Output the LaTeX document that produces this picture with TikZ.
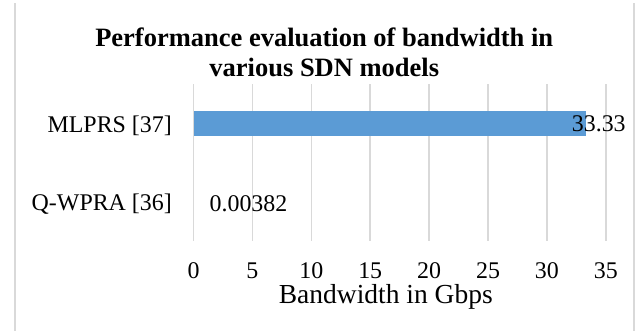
\documentclass[tikz,border=0pt]{standalone}
\usepackage{fontspec}
\setmainfont{Liberation Serif}
\definecolor{gridgray}{HTML}{D9D9D9}
\definecolor{barblue}{HTML}{5B9BD5}
\begin{document}
\begin{tikzpicture}[x=1bp,y=-1bp,
  frameline/.style={draw=gridgray,line width=1.5bp},
  gridline/.style={draw=gridgray,line width=1.5bp},
  lbl/.style={inner sep=0pt,font=\fontsize{23.9bp}{28bp}\selectfont},
  axtitle/.style={inner sep=0pt,font=\fontsize{27.5bp}{30bp}\selectfont},
  charttitle/.style={inner sep=0pt,font=\fontsize{26.5bp}{30bp}\selectfont\bfseries}]
\useasboundingbox (0,0) rectangle (638,331);
% chart frame sides
\draw[frameline] (15,3) -- (15,331);
\draw[frameline] (634,3) -- (634,331);
% gridlines and tick labels
\foreach \v [count=\i] in {0,5,10,15,20,25,30,35}{
  \draw[gridline] ({193.5+\v*11.78},84) -- ({193.5+\v*11.78},241);
  \node[lbl,anchor=base] (tick\i) at ({193.5+\v*11.78},278.3) {\v};
}
% bar
\fill[barblue] (193.5,111) rectangle (586.2,135.7);
% category labels
\node[lbl,anchor=base east] (catA) at (172,132) {MLPRS [37]};
\node[lbl,anchor=base east] (catB) at (172,210) {Q-WPRA [36]};
% data labels
\node[lbl,anchor=base] (valA) at (598.8,131.7) {33.33};
\node[lbl,anchor=base] (valB) at (248.5,211.7) {0.00382};
% axis title
\node[axtitle,anchor=base] (xtitle) at (385.8,303.3) {Bandwidth in Gbps};
% chart title
\node[charttitle,anchor=base] (title1) at (324.2,46.7) {Performance evaluation of bandwidth in};
\node[charttitle,anchor=base] (title2) at (324.3,76.7) {various SDN models};
\end{tikzpicture}
\end{document}
